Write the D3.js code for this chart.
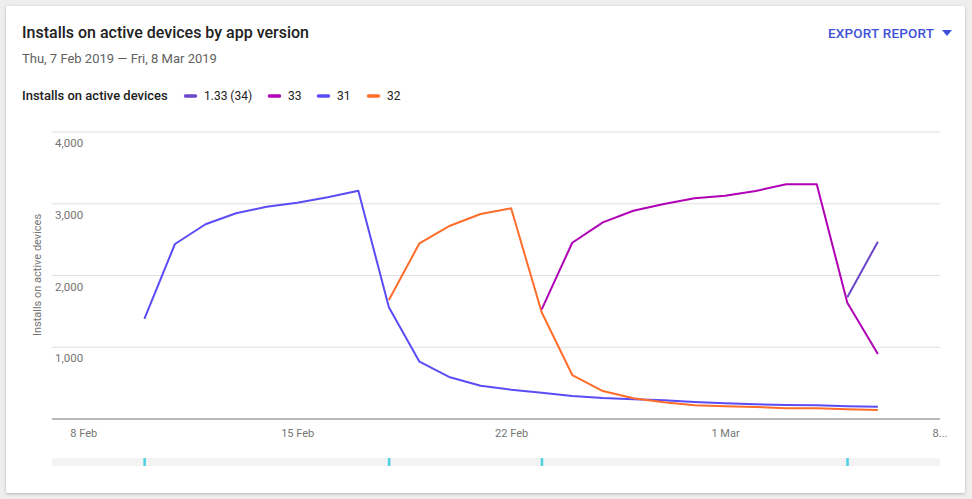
<!DOCTYPE html>
<html><head><meta charset="utf-8">
<script src="https://cdn.jsdelivr.net/npm/d3@7"></script>
<style>
body{margin:0;background:#eeeeee;font-family:Roboto,"Noto Sans",Arial,sans-serif;}
svg{display:block;}
</style></head><body>
<svg id="c" width="972" height="499"></svg>
<script>
const series = ["1.33 (34)", "33", "31", "32"];
const colors = ["#6a45c8", "#b000b5", "#5b4cf5", "#ff6d2a"];
const startDates = ["2019-03-05", "2019-02-23", "2019-02-10", "2019-02-18"];
const v134 = [1696, 2471];
const v33 = [1529, 2457, 2741, 2903, 2997, 3076, 3112, 3178, 3271, 3271, 1621, 906];
const v31 = [1394, 2439, 2714, 2867, 2959, 3015, 3090, 3182, 1557, 799, 581, 464, 408, 367, 321, 293, 275, 261, 237, 219, 205, 195, 191, 177, 171];
const v32 = [1659, 2449, 2694, 2857, 2936, 1487, 613, 390, 288, 233, 191, 177, 167, 149, 149, 135, 125];
const yTicks = [1000, 2000, 3000, 4000];
const xTickDates = ["2019-02-08", "2019-02-15", "2019-02-22", "2019-03-01", "2019-03-08"];
const xTickLabels = ["8 Feb", "15 Feb", "22 Feb", "1 Mar", "8..."];
const releaseDates = ["2019-02-10", "2019-02-18", "2019-02-23", "2019-03-05"];

const parse = d3.utcParse("%Y-%m-%d");
const svg = d3.select("#c");

// card
const defs = svg.append("defs");
const f = defs.append("filter").attr("id","sh").attr("x","-5%").attr("y","-5%").attr("width","110%").attr("height","110%");
f.append("feDropShadow").attr("dx",0).attr("dy",1).attr("stdDeviation",1.5).attr("flood-color","#000").attr("flood-opacity",0.25);
svg.append("rect").attr("x",6).attr("y",6).attr("width",959).attr("height",487).attr("fill","#fff").attr("rx",2).attr("filter","url(#sh)");

svg.append("text").attr("x",22).attr("y",38).attr("font-size",16).attr("font-weight",500).attr("fill","#212121").text("Installs on active devices by app version");
svg.append("text").attr("x",22).attr("y",63).attr("font-size",13).attr("fill","#616161").text("Thu, 7 Feb 2019 \u2014 Fri, 8 Mar 2019");

svg.append("text").attr("x",828).attr("y",38).attr("font-size",13.5).attr("font-weight",500).attr("fill","#3f51d8").attr("letter-spacing",0.2).text("EXPORT REPORT");
svg.append("path").attr("d","M942,30 L952,30 L947,36 Z").attr("fill","#3f51d8");

// legend
svg.append("text").attr("x",22).attr("y",100).attr("font-size",13).attr("font-weight",500).attr("fill","#212121").text("Installs on active devices");
const legX = [184, 268, 317, 367];
series.forEach((s,i)=>{
  svg.append("line").attr("x1",legX[i]+1.5).attr("x2",legX[i]+11.5).attr("y1",96).attr("y2",96)
    .attr("stroke",colors[i]).attr("stroke-width",3.5).attr("stroke-linecap","round");
  svg.append("text").attr("x",legX[i]+20).attr("y",100).attr("font-size",12).attr("fill","#212121").text(s);
});

const x = d3.scaleUtc().domain([parse("2019-02-07"), parse("2019-03-08")]).range([52.7, 939]);
const y = d3.scaleLinear().domain([0, 4000]).range([419, 132]);

// grid
const g = svg.append("g");
g.selectAll("line.grid").data(yTicks).join("line").attr("class","grid")
  .attr("x1",52).attr("x2",940).attr("y1",d=>y(d)).attr("y2",d=>y(d)).attr("stroke","#e0e0e0").attr("stroke-width",1);
g.selectAll("text.yl").data(yTicks).join("text").attr("class","yl")
  .attr("x",55).attr("y",d=>y(d)+15).attr("font-size",11.5).attr("fill","#757575").text(d=>d3.format(",")(d));
svg.append("text").attr("transform","translate(41,275) rotate(-90)").attr("text-anchor","middle")
  .attr("font-size",11).attr("fill","#757575").text("Installs on active devices");

// x axis
const xa = d3.axisBottom(x).tickValues(xTickDates.map(parse)).tickFormat((d,i)=>xTickLabels[i]).tickSize(0).tickPadding(10);
const xg = svg.append("g").attr("transform","translate(0,419)").call(xa);
xg.select(".domain").remove();
xg.selectAll("text").attr("font-size",11).attr("fill","#757575").attr("font-family","Roboto,sans-serif");
xg.selectAll(".tick").filter((d,i)=>i===4).select("text").attr("text-anchor","end").attr("dx","8");
svg.append("line").attr("x1",52).attr("x2",940).attr("y1",419).attr("y2",419).attr("stroke","#757575").attr("stroke-width",1.2);

// lines
const allVals = [v134, v33, v31, v32];
const line = d3.line().x(d=>x(d.date)).y(d=>y(d.v));
const order = [2, 3, 1, 0];
order.forEach(i=>{
  const s = parse(startDates[i]);
  const data = allVals[i].map((v,k)=>({date: d3.utcDay.offset(s,k), v}));
  svg.append("path").datum(data).attr("d",line).attr("fill","none").attr("stroke",colors[i]).attr("stroke-width",2).attr("stroke-linejoin","round");
});

// bottom bar
svg.append("rect").attr("x",52).attr("y",458).attr("width",888).attr("height",8).attr("fill","#f3f3f3");
svg.selectAll("rect.rel").data(releaseDates).join("rect").attr("class","rel")
  .attr("x",d=>x(parse(d))-1).attr("y",458).attr("width",2.5).attr("height",8).attr("fill","#4fd0e3");
</script>
</body></html>
